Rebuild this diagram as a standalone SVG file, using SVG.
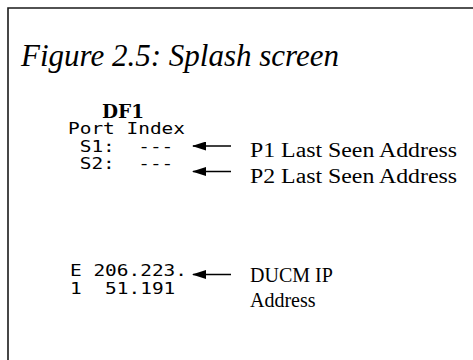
<svg xmlns="http://www.w3.org/2000/svg" width="473" height="360" viewBox="0 0 473 360">
  <defs>
    <!-- solid pointer head; drawn along +x so orient="auto" turns it with the line -->
    <marker id="head" markerWidth="14" markerHeight="9" refX="13" refY="4.5" orient="auto" markerUnits="userSpaceOnUse">
      <path d="M14,4.5 L0,0 L0,9 Z" fill="#000"/>
    </marker>
    <style>
      .frame { fill: none; stroke: #1a1a1a; stroke-width: 1.6; }
      .title { font-family: "Liberation Serif", "Times New Roman", serif; font-style: italic; font-size: 31px; fill: #000; }
      .label { font-family: "Liberation Serif", "Times New Roman", serif; font-size: 20px; fill: #000; }
      .lcd { font-family: "DejaVu Sans Mono", monospace; font-size: 15px; fill: #000; white-space: pre; }
      .lcd-head { font-family: "DejaVu Serif", "Liberation Serif", serif; font-weight: bold; font-size: 18px; fill: #000; }
      .arrow { stroke: #000; stroke-width: 1.5; fill: none; }
    </style>
  </defs>

  <rect width="473" height="360" fill="#fff"/>
  <!-- page frame: only left and top edges fall inside the view -->
  <path class="frame" d="M8,360 V8 H473"/>

  <text class="title" x="21" y="66">Figure 2.5: Splash screen</text>

  <!-- LCD splash screen, fixed 11.7px character cells -->
  <g id="lcd-screen">
    <text class="lcd-head" x="102" y="118" textLength="42" lengthAdjust="spacingAndGlyphs">DF1</text>
    <text class="lcd" x="68" y="134" textLength="117" lengthAdjust="spacingAndGlyphs" xml:space="preserve">Port Index</text>
    <text id="s1" class="lcd" x="68" y="151.5" textLength="105.3" lengthAdjust="spacingAndGlyphs" xml:space="preserve"> S1:  ---</text>
    <text id="s2" class="lcd" x="68" y="169" textLength="105.3" lengthAdjust="spacingAndGlyphs" xml:space="preserve"> S2:  ---</text>
    <text id="ip1" class="lcd" x="70" y="276" textLength="117" lengthAdjust="spacingAndGlyphs" xml:space="preserve">E 206.223.</text>
    <text id="ip2" class="lcd" x="70" y="294" textLength="105.3" lengthAdjust="spacingAndGlyphs" xml:space="preserve">1  51.191</text>
  </g>

  <!-- callout labels -->
  <g id="label-p1">
    <text class="label" x="250" y="156.5" textLength="207" lengthAdjust="spacingAndGlyphs">P1 Last Seen Address</text>
  </g>
  <g id="label-p2">
    <text class="label" x="250" y="183" textLength="207" lengthAdjust="spacingAndGlyphs">P2 Last Seen Address</text>
  </g>
  <g id="label-ip">
    <text class="label" x="250" y="282">DUCM IP</text>
    <text class="label" x="250" y="307">Address</text>
  </g>

  <!-- pointer arrows -->
  <g id="connectors">
    <line class="arrow" x1="231" y1="146" x2="193" y2="146" marker-end="url(#head)"/>
    <line class="arrow" x1="231" y1="171.5" x2="193" y2="171.5" marker-end="url(#head)"/>
    <line class="arrow" x1="231" y1="274.5" x2="193" y2="274.5" marker-end="url(#head)"/>
  </g>
</svg>
